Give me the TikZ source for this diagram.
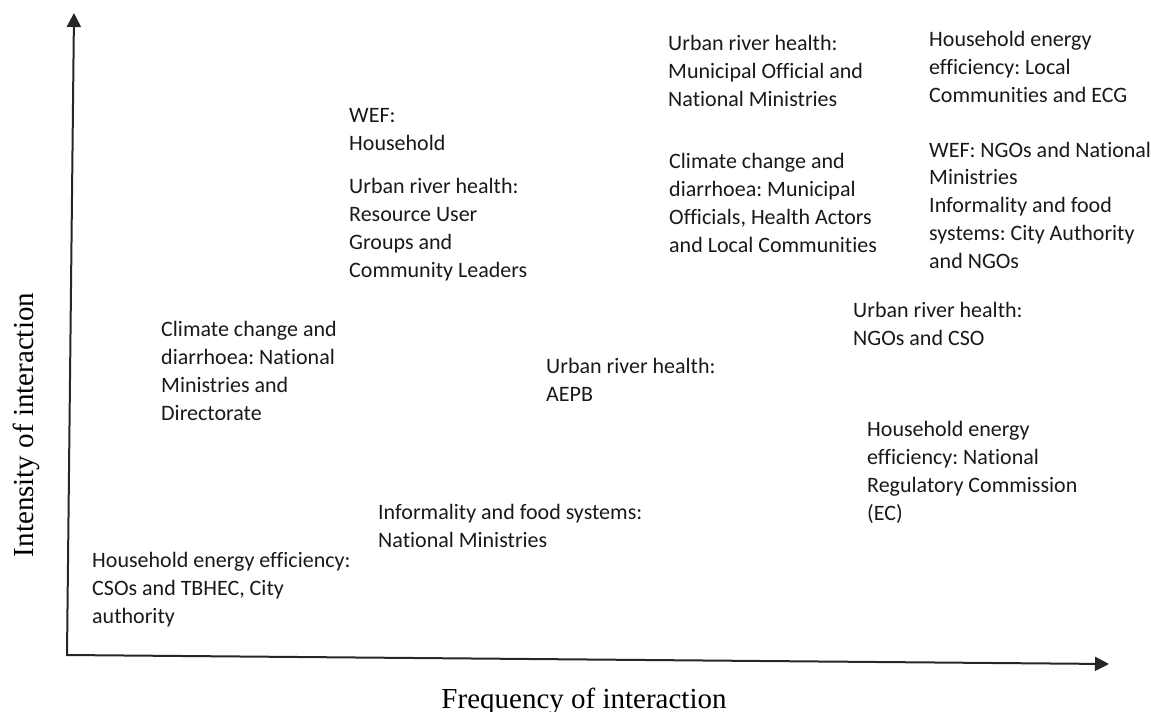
\documentclass[tikz,border=0pt]{standalone}
\usepackage{fontspec}
\setmainfont{Liberation Serif}
\newfontfamily\carlito[Ligatures=NoCommon]{Carlito}
\usetikzlibrary{arrows.meta}
\frenchspacing

\begin{document}
\begin{tikzpicture}[x=1pt,y=-1pt,
	lbl/.style={anchor=base west,inner sep=0pt,align=left,text=black!90,
		font=\carlito\fontsize{22}{27.7}\selectfont},
	axlbl/.style={anchor=base,inner sep=0pt,font=\fontsize{29}{34}\selectfont},
	axis/.style={line width=2pt,black!85,line join=miter,
		{Triangle[length=14pt,width=14pt]}-{Triangle[length=14pt,width=14pt]}}]
	\useasboundingbox (0,0) rectangle (1151,712);

	% axes
	\coordinate (origin) at (67,655);
	\coordinate (ytip) at (74,13);
	\coordinate (xtip) at (1109,664);
	\draw[axis] (ytip) -- (origin) -- (xtip);

	\node[axlbl] (freqLbl) at (584,708) {Frequency of interaction};
	\node[axlbl,rotate=90] (intLbl) at (33,425) {Intensity of interaction};

	% actors, top row (anchored on the last line)
	\node[lbl] (urhMunicipal) at (668,106) {Urban river health:\\Municipal Official and\\National Ministries};
	\node[lbl] (heeLocal) at (929,102) {Household energy\\efficiency: Local\\Communities and ECG};
	\node[lbl] (wefHousehold) at (349,150) {WEF:\\Household};
	\node[lbl] (ccdMunicipal) at (669,252) {Climate change and\\diarrhoea: Municipal\\Officials, Health Actors\\and Local Communities};
	\node[lbl] (wefNgo) at (929,268) {WEF: NGOs and National\\Ministries\\Informality and food\\systems: City Authority\\and NGOs};
	\node[lbl] (urhResource) at (349,277) {Urban river health:\\Resource User\\Groups and\\Community Leaders};

	% middle
	\node[lbl] (ccdNational) at (161,420) {Climate change and\\diarrhoea: National\\Ministries and\\Directorate};
	\node[lbl] (urhNgo) at (853,345) {Urban river health:\\NGOs and CSO};
	\node[lbl] (urhAepb) at (546,401) {Urban river health:\\AEPB};

	% bottom
	\node[lbl] (heeNational) at (867,520) {Household energy\\efficiency: National\\Regulatory Commission\\(EC)};
	\node[lbl] (ifsNational) at (378,547) {Informality and food systems:\\National Ministries};
	\node[lbl] (heeCso) at (92,623) {Household energy efficiency:\\CSOs and TBHEC, City\\authority};
\end{tikzpicture}
\end{document}
